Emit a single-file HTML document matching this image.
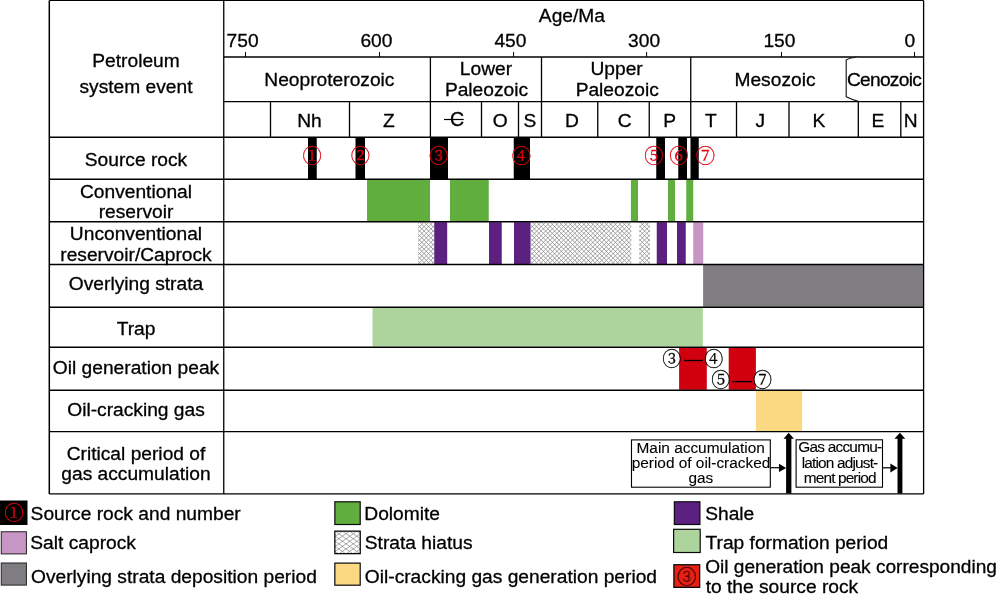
<!DOCTYPE html>
<html lang="en"><head><meta charset="utf-8"><title>Petroleum system events chart</title>
<style>
html,body{margin:0;padding:0;background:#fff;}
body{width:1000px;height:600px;overflow:hidden;font-family:"Liberation Sans", sans-serif;}
svg{display:block;}
</style></head><body>
<svg width="1000" height="600" viewBox="0 0 1000 600">
<rect width="1000" height="600" fill="#fff"/>
<rect x="308" y="137.5" width="8.75" height="41.7" fill="#000" />
<rect x="355.5" y="137.5" width="9.5" height="41.7" fill="#000" />
<rect x="430" y="137.5" width="18" height="41.7" fill="#000" />
<rect x="513.75" y="137.5" width="16.25" height="41.7" fill="#000" />
<rect x="656.25" y="137.5" width="8.75" height="41.7" fill="#000" />
<rect x="678.25" y="137.5" width="8.75" height="41.7" fill="#000" />
<rect x="690.5" y="137.5" width="8.25" height="41.7" fill="#000" />
<rect x="367" y="179.8" width="63" height="41.6" fill="#5FAE3E" />
<rect x="450" y="179.8" width="38.75" height="41.6" fill="#5FAE3E" />
<rect x="630.9" y="179.8" width="7.1" height="41.6" fill="#5FAE3E" />
<rect x="668" y="179.8" width="7" height="41.6" fill="#5FAE3E" />
<rect x="686.25" y="179.8" width="7.0" height="41.6" fill="#5FAE3E" />
<clipPath id="h0"><rect x="418" y="222.2" width="16.25" height="41.8"/></clipPath>
<path clip-path="url(#h0)" d="M379.2,222.2l41.8,41.8M383.7,222.2l41.8,41.8M388.2,222.2l41.8,41.8M392.7,222.2l41.8,41.8M397.2,222.2l41.8,41.8M401.7,222.2l41.8,41.8M406.2,222.2l41.8,41.8M410.7,222.2l41.8,41.8M415.2,222.2l41.8,41.8M419.7,222.2l41.8,41.8M419.5,222.2l-41.8,41.8M424.2,222.2l41.8,41.8M424.0,222.2l-41.8,41.8M428.7,222.2l41.8,41.8M428.5,222.2l-41.8,41.8M433.2,222.2l41.8,41.8M433.0,222.2l-41.8,41.8M437.5,222.2l-41.8,41.8M442.0,222.2l-41.8,41.8M446.5,222.2l-41.8,41.8M451.0,222.2l-41.8,41.8M455.5,222.2l-41.8,41.8M460.0,222.2l-41.8,41.8M464.5,222.2l-41.8,41.8M469.0,222.2l-41.8,41.8M473.5,222.2l-41.8,41.8" stroke="#828282" stroke-width="0.72" fill="none"/>
<clipPath id="h1"><rect x="530.5" y="222.2" width="100.75" height="41.8"/></clipPath>
<path clip-path="url(#h1)" d="M491.7,222.2l41.8,41.8M496.2,222.2l41.8,41.8M500.7,222.2l41.8,41.8M505.2,222.2l41.8,41.8M509.7,222.2l41.8,41.8M514.2,222.2l41.8,41.8M518.7,222.2l41.8,41.8M523.2,222.2l41.8,41.8M527.7,222.2l41.8,41.8M532.2,222.2l41.8,41.8M532.0,222.2l-41.8,41.8M536.7,222.2l41.8,41.8M536.5,222.2l-41.8,41.8M541.2,222.2l41.8,41.8M541.0,222.2l-41.8,41.8M545.7,222.2l41.8,41.8M545.5,222.2l-41.8,41.8M550.2,222.2l41.8,41.8M550.0,222.2l-41.8,41.8M554.7,222.2l41.8,41.8M554.5,222.2l-41.8,41.8M559.2,222.2l41.8,41.8M559.0,222.2l-41.8,41.8M563.7,222.2l41.8,41.8M563.5,222.2l-41.8,41.8M568.2,222.2l41.8,41.8M568.0,222.2l-41.8,41.8M572.7,222.2l41.8,41.8M572.5,222.2l-41.8,41.8M577.2,222.2l41.8,41.8M577.0,222.2l-41.8,41.8M581.7,222.2l41.8,41.8M581.5,222.2l-41.8,41.8M586.2,222.2l41.8,41.8M586.0,222.2l-41.8,41.8M590.7,222.2l41.8,41.8M590.5,222.2l-41.8,41.8M595.2,222.2l41.8,41.8M595.0,222.2l-41.8,41.8M599.7,222.2l41.8,41.8M599.5,222.2l-41.8,41.8M604.2,222.2l41.8,41.8M604.0,222.2l-41.8,41.8M608.7,222.2l41.8,41.8M608.5,222.2l-41.8,41.8M613.2,222.2l41.8,41.8M613.0,222.2l-41.8,41.8M617.7,222.2l41.8,41.8M617.5,222.2l-41.8,41.8M622.2,222.2l41.8,41.8M622.0,222.2l-41.8,41.8M626.7,222.2l41.8,41.8M626.5,222.2l-41.8,41.8M631.2,222.2l41.8,41.8M631.0,222.2l-41.8,41.8M635.5,222.2l-41.8,41.8M640.0,222.2l-41.8,41.8M644.5,222.2l-41.8,41.8M649.0,222.2l-41.8,41.8M653.5,222.2l-41.8,41.8M658.0,222.2l-41.8,41.8M662.5,222.2l-41.8,41.8M667.0,222.2l-41.8,41.8M671.5,222.2l-41.8,41.8" stroke="#828282" stroke-width="0.72" fill="none"/>
<clipPath id="h2"><rect x="639.25" y="222.2" width="10.75" height="41.8"/></clipPath>
<path clip-path="url(#h2)" d="M599.7,222.2l41.8,41.8M604.2,222.2l41.8,41.8M608.7,222.2l41.8,41.8M613.2,222.2l41.8,41.8M617.7,222.2l41.8,41.8M622.2,222.2l41.8,41.8M626.7,222.2l41.8,41.8M631.2,222.2l41.8,41.8M635.7,222.2l41.8,41.8M640.2,222.2l41.8,41.8M640.0,222.2l-41.8,41.8M644.7,222.2l41.8,41.8M644.5,222.2l-41.8,41.8M649.2,222.2l41.8,41.8M649.0,222.2l-41.8,41.8M653.5,222.2l-41.8,41.8M658.0,222.2l-41.8,41.8M662.5,222.2l-41.8,41.8M667.0,222.2l-41.8,41.8M671.5,222.2l-41.8,41.8M676.0,222.2l-41.8,41.8M680.5,222.2l-41.8,41.8M685.0,222.2l-41.8,41.8M689.5,222.2l-41.8,41.8" stroke="#828282" stroke-width="0.72" fill="none"/>
<rect x="434.25" y="222.2" width="12.95" height="41.8" fill="#5C2080" />
<rect x="489" y="222.2" width="12.75" height="41.8" fill="#5C2080" />
<rect x="514" y="222.2" width="16.5" height="41.8" fill="#5C2080" />
<rect x="656.75" y="222.2" width="10.25" height="41.8" fill="#5C2080" />
<rect x="677" y="222.2" width="8.75" height="41.8" fill="#5C2080" />
<rect x="693.25" y="222.2" width="10.0" height="41.8" fill="#C896C4" />
<rect x="703.1" y="265" width="220.5" height="41.8" fill="#7F7D82" />
<rect x="372.5" y="307.9" width="330.3" height="38.6" fill="#ACD49C" />
<rect x="679.1" y="347.8" width="27.7" height="42.0" fill="#D0000F" />
<rect x="728.7" y="347.8" width="27.2" height="42.0" fill="#D0000F" />
<rect x="755.9" y="390.8" width="46.2" height="40.2" fill="#FBD982" />
<line x1="49.3" y1="0.4" x2="923.6" y2="0.4" stroke="#000" stroke-width="1.3"/>
<line x1="49.3" y1="493.9" x2="923.6" y2="493.9" stroke="#000" stroke-width="1.3"/>
<line x1="49.3" y1="0.4" x2="49.3" y2="493.9" stroke="#000" stroke-width="1.5"/>
<line x1="223.75" y1="0.4" x2="223.75" y2="493.9" stroke="#000" stroke-width="1.3"/>
<line x1="923.6" y1="0.4" x2="923.6" y2="493.9" stroke="#000" stroke-width="1.3"/>
<line x1="49.3" y1="137.25" x2="923.6" y2="137.25" stroke="#000" stroke-width="1.3"/>
<line x1="49.3" y1="179.25" x2="923.6" y2="179.25" stroke="#000" stroke-width="1.3"/>
<line x1="49.3" y1="221.75" x2="923.6" y2="221.75" stroke="#000" stroke-width="1.3"/>
<line x1="49.3" y1="264.5" x2="923.6" y2="264.5" stroke="#000" stroke-width="1.3"/>
<line x1="49.3" y1="307.25" x2="923.6" y2="307.25" stroke="#000" stroke-width="1.3"/>
<line x1="49.3" y1="347.25" x2="923.6" y2="347.25" stroke="#000" stroke-width="1.3"/>
<line x1="49.3" y1="390.25" x2="923.6" y2="390.25" stroke="#000" stroke-width="1.3"/>
<line x1="49.3" y1="431.6" x2="923.6" y2="431.6" stroke="#000" stroke-width="1.3"/>
<line x1="223.75" y1="57" x2="923.6" y2="57" stroke="#000" stroke-width="1.3"/>
<line x1="223.75" y1="101.6" x2="923.6" y2="101.6" stroke="#000" stroke-width="1.3"/>
<line x1="430.4" y1="57" x2="430.4" y2="137.25" stroke="#000" stroke-width="1.3"/>
<line x1="541.5" y1="57" x2="541.5" y2="137.25" stroke="#000" stroke-width="1.3"/>
<line x1="690.75" y1="57" x2="690.75" y2="137.25" stroke="#000" stroke-width="1.3"/>
<line x1="270.5" y1="101.6" x2="270.5" y2="137.25" stroke="#000" stroke-width="1.3"/>
<line x1="349.5" y1="101.6" x2="349.5" y2="137.25" stroke="#000" stroke-width="1.3"/>
<line x1="481.5" y1="101.6" x2="481.5" y2="137.25" stroke="#000" stroke-width="1.3"/>
<line x1="518.5" y1="101.6" x2="518.5" y2="137.25" stroke="#000" stroke-width="1.3"/>
<line x1="597.75" y1="101.6" x2="597.75" y2="137.25" stroke="#000" stroke-width="1.3"/>
<line x1="649.25" y1="101.6" x2="649.25" y2="137.25" stroke="#000" stroke-width="1.3"/>
<line x1="736.5" y1="101.6" x2="736.5" y2="137.25" stroke="#000" stroke-width="1.3"/>
<line x1="789" y1="101.6" x2="789" y2="137.25" stroke="#000" stroke-width="1.3"/>
<line x1="858.3" y1="101.6" x2="858.3" y2="137.25" stroke="#000" stroke-width="1.3"/>
<line x1="900.8" y1="101.6" x2="900.8" y2="137.25" stroke="#000" stroke-width="1.3"/>
<line x1="245.5" y1="52" x2="245.5" y2="57" stroke="#000" stroke-width="1"/>
<line x1="379.5" y1="52" x2="379.5" y2="57" stroke="#000" stroke-width="1"/>
<line x1="513.6" y1="52" x2="513.6" y2="57" stroke="#000" stroke-width="1"/>
<line x1="646.6" y1="52" x2="646.6" y2="57" stroke="#000" stroke-width="1"/>
<line x1="781.5" y1="52" x2="781.5" y2="57" stroke="#000" stroke-width="1"/>
<line x1="914.5" y1="52" x2="914.5" y2="57" stroke="#000" stroke-width="1"/>
<path d="M858,57 Q850,57.6 846.2,60 L846.2,96.8 Q851,99.2 858.3,101.4" fill="#fff" stroke="#111" stroke-width="1.1"/>
<g font-family='"Liberation Sans", sans-serif' fill="#000" stroke="#000" stroke-width="0.3">
<text x="136" y="67" font-size="19.2" text-anchor="middle" >Petroleum</text>
<text x="136" y="93" font-size="19.2" text-anchor="middle" >system event</text>
<text x="136.0" y="166.25" font-size="19.2" text-anchor="middle" >Source rock</text>
<text x="136.0" y="197.5" font-size="19.2" text-anchor="middle" >Conventional</text>
<text x="136.0" y="217.5" font-size="19.2" text-anchor="middle" >reservoir</text>
<text x="136.0" y="240" font-size="19.2" text-anchor="middle" >Unconventional</text>
<text x="136.0" y="260.75" font-size="19.2" text-anchor="middle" >reservoir/Caprock</text>
<text x="136.0" y="290" font-size="19.2" text-anchor="middle" >Overlying strata</text>
<text x="136.0" y="334.5" font-size="19.2" text-anchor="middle" >Trap</text>
<text x="136.0" y="373.75" font-size="19.2" text-anchor="middle" >Oil generation peak</text>
<text x="136.0" y="416.25" font-size="19.2" text-anchor="middle" >Oil-cracking gas</text>
<text x="136.0" y="459.5" font-size="19.2" text-anchor="middle" >Critical period of</text>
<text x="136.0" y="480" font-size="19.2" text-anchor="middle" >gas accumulation</text>
<text x="571.9" y="21.9" font-size="19.2" text-anchor="middle" >Age/Ma</text>
<text x="242.6" y="47" font-size="19.2" text-anchor="middle" >750</text>
<text x="376.4" y="47" font-size="19.2" text-anchor="middle" >600</text>
<text x="510.4" y="47" font-size="19.2" text-anchor="middle" >450</text>
<text x="644.1" y="47" font-size="19.2" text-anchor="middle" >300</text>
<text x="779.4" y="47" font-size="19.2" text-anchor="middle" >150</text>
<text x="909.75" y="47" font-size="19.2" text-anchor="middle" >0</text>
<text x="329.4" y="85.75" font-size="19.2" text-anchor="middle" >Neoproterozoic</text>
<text x="486" y="75" font-size="19.2" text-anchor="middle" >Lower</text>
<text x="486.5" y="95.75" font-size="19.2" text-anchor="middle" >Paleozoic</text>
<text x="616.6" y="75" font-size="19.2" text-anchor="middle" >Upper</text>
<text x="617.25" y="95.75" font-size="19.2" text-anchor="middle" >Paleozoic</text>
<text x="775" y="85.75" font-size="19.2" text-anchor="middle" >Mesozoic</text>
<text x="884.0" y="85.5" font-size="19.2" text-anchor="middle" letter-spacing="-0.75">Cenozoic</text>
<text x="309.4" y="126.6" font-size="19.2" text-anchor="middle" >Nh</text>
<text x="388.75" y="126.6" font-size="19.2" text-anchor="middle" >Z</text>
<text x="500.25" y="126.6" font-size="19.2" text-anchor="middle" >O</text>
<text x="530" y="126.6" font-size="19.2" text-anchor="middle" >S</text>
<text x="571.9" y="126.6" font-size="19.2" text-anchor="middle" >D</text>
<text x="624.75" y="126.6" font-size="19.2" text-anchor="middle" >C</text>
<text x="669.75" y="126.6" font-size="19.2" text-anchor="middle" >P</text>
<text x="710.75" y="126.6" font-size="19.2" text-anchor="middle" >T</text>
<text x="760.4" y="126.6" font-size="19.2" text-anchor="middle" >J</text>
<text x="818.9" y="126.6" font-size="19.2" text-anchor="middle" >K</text>
<text x="878" y="126.6" font-size="19.2" text-anchor="middle" >E</text>
<text x="910.75" y="126.6" font-size="19.2" text-anchor="middle" >N</text>
<text x="457.0" y="125.9" font-size="20.6" text-anchor="middle" transform="translate(457 0) scale(0.95 1) translate(-457 0)">C</text>
</g>
<line x1="444" y1="119.5" x2="463.7" y2="119.5" stroke="#000" stroke-width="1.2"/>
<text x="312.25" y="163.41" font-size="19.3" text-anchor="middle" font-family='"Liberation Serif", "Noto Serif CJK SC", serif' fill="#E0000F" stroke="#E0000F" stroke-width="0.3">①</text>
<text x="360.4" y="163.41" font-size="19.3" text-anchor="middle" font-family='"Liberation Serif", "Noto Serif CJK SC", serif' fill="#E0000F" stroke="#E0000F" stroke-width="0.3">②</text>
<text x="438.75" y="163.41" font-size="19.3" text-anchor="middle" font-family='"Liberation Serif", "Noto Serif CJK SC", serif' fill="#E0000F" stroke="#E0000F" stroke-width="0.3">③</text>
<text x="521.4" y="163.41" font-size="19.3" text-anchor="middle" font-family='"Liberation Serif", "Noto Serif CJK SC", serif' fill="#E0000F" stroke="#E0000F" stroke-width="0.3">④</text>
<text x="654" y="163.41" font-size="19.3" text-anchor="middle" font-family='"Liberation Serif", "Noto Serif CJK SC", serif' fill="#E0000F" stroke="#E0000F" stroke-width="0.3">⑤</text>
<text x="679" y="163.41" font-size="19.3" text-anchor="middle" font-family='"Liberation Serif", "Noto Serif CJK SC", serif' fill="#E0000F" stroke="#E0000F" stroke-width="0.3">⑥</text>
<text x="705.4" y="163.41" font-size="19.3" text-anchor="middle" font-family='"Liberation Serif", "Noto Serif CJK SC", serif' fill="#E0000F" stroke="#E0000F" stroke-width="0.3">⑦</text>
<circle cx="671.8" cy="358.7" r="8.36" fill="#fff"/>
<text x="671.8" y="365.9" font-size="19.0" text-anchor="middle" font-family='"Liberation Serif", "Noto Serif CJK SC", serif' fill="#000" stroke="#000" stroke-width="0.28">③</text>
<circle cx="713.8" cy="358.7" r="8.36" fill="#fff"/>
<text x="713.8" y="365.9" font-size="19.0" text-anchor="middle" font-family='"Liberation Serif", "Noto Serif CJK SC", serif' fill="#000" stroke="#000" stroke-width="0.28">④</text>
<circle cx="720.8" cy="379.4" r="8.36" fill="#fff"/>
<text x="720.8" y="386.6" font-size="19.0" text-anchor="middle" font-family='"Liberation Serif", "Noto Serif CJK SC", serif' fill="#000" stroke="#000" stroke-width="0.28">⑤</text>
<circle cx="762.6" cy="379.4" r="8.36" fill="#fff"/>
<text x="762.6" y="386.6" font-size="19.0" text-anchor="middle" font-family='"Liberation Serif", "Noto Serif CJK SC", serif' fill="#000" stroke="#000" stroke-width="0.28">⑦</text>
<line x1="683.9" y1="360.5" x2="702.8" y2="360.5" stroke="#000" stroke-width="1.3"/>
<line x1="732.4" y1="381.6" x2="751.9" y2="381.6" stroke="#000" stroke-width="1.3"/>
<rect x="631.5" y="439.9" width="138.8" height="47.3" fill="#fff" stroke="#000" stroke-width="1.1"/>
<rect x="796.1" y="439.8" width="86.4" height="47.4" fill="#fff" stroke="#000" stroke-width="1.1"/>
<g font-family='"Liberation Sans", sans-serif' fill="#000" stroke="#000" stroke-width="0.1">
<text x="700.7" y="452.6" font-size="15.4" text-anchor="middle" >Main accumulation</text>
<text x="701" y="467.6" font-size="15.4" text-anchor="middle" >period of oil-cracked</text>
<text x="700.8" y="482.6" font-size="15.4" text-anchor="middle" >gas</text>
<text x="839.8" y="452.4" font-size="15.4" text-anchor="middle" letter-spacing="-0.76">Gas accumu-</text>
<text x="839.6" y="467.6" font-size="15.4" text-anchor="middle" letter-spacing="-0.83">lation adjust-</text>
<text x="839.7" y="482.6" font-size="15.4" text-anchor="middle" letter-spacing="-0.86">ment period</text>
</g>
<line x1="770.4" y1="467.7" x2="780" y2="467.7" stroke="#000" stroke-width="1.2"/>
<polygon points="779,463.8 786.2,467.9 779,472" fill="#000"/>
<line x1="882.7" y1="467.8" x2="891" y2="467.8" stroke="#000" stroke-width="1.2"/>
<polygon points="890.4,463.5 897.7,467.9 890.4,472.4" fill="#000"/>
<polygon points="786.1,493.6 786.1,438.7 783.5,438.7 788.7,432.8 794,438.7 791.4,438.7 791.4,493.6" fill="#000"/>
<polygon points="897.5,493.6 897.5,438.7 894.4,438.7 899.9,432.8 905.3,438.7 902.4,438.7 902.4,493.6" fill="#000"/>
<rect x="0" y="500.5" width="27.5" height="24.5" fill="#000" />
<text x="14" y="520.03" font-size="19.6" text-anchor="middle" font-family='"Liberation Serif", "Noto Serif CJK SC", serif' fill="#E0000F" stroke="#E0000F" stroke-width="0.3">①</text>
<rect x="1.25" y="531.75" width="25.15" height="22.15" fill="#C896C4" stroke="#222" stroke-width="1.0"/>
<rect x="1.25" y="563.0" width="25.15" height="22.1" fill="#7F7D82" stroke="#222" stroke-width="1.0"/>
<rect x="334.85" y="501.8" width="25.35" height="22.7" fill="#5FAE3E" stroke="#0a0a0a" stroke-width="1.2"/>
<clipPath id="hl"><rect x="334.7" y="531.2" width="25.7" height="22.7"/></clipPath>
<path clip-path="url(#hl)" d="M306.45,531.2l32.24,22.7M313.65,531.2l32.24,22.7M320.85,531.2l32.24,22.7M328.05,531.2l32.24,22.7M335.15,531.2l-32.24,22.7M335.25,531.2l32.24,22.7M342.35,531.2l-32.24,22.7M342.45,531.2l32.24,22.7M349.55,531.2l-32.24,22.7M349.65,531.2l32.24,22.7M356.75,531.2l-32.24,22.7M356.85,531.2l32.24,22.7M363.95,531.2l-32.24,22.7M371.15,531.2l-32.24,22.7M378.35,531.2l-32.24,22.7M385.55,531.2l-32.24,22.7" stroke="#777" stroke-width="0.62" fill="none"/>
<rect x="334.85" y="531.15" width="25.4" height="22.5" fill="none" stroke="#0a0a0a" stroke-width="1.3"/>
<rect x="334.85" y="563.1" width="25.35" height="22.1" fill="#FBD982" stroke="#0a0a0a" stroke-width="1.2"/>
<rect x="674.35" y="501.8" width="25.55" height="22.7" fill="#5C2080" stroke="#0a0a0a" stroke-width="1.2"/>
<rect x="673.6" y="529.3" width="26.6" height="23.2" fill="#ACD49C" stroke="#0a0a0a" stroke-width="1.2"/>
<rect x="673.9" y="564.75" width="25.75" height="22.6" fill="#E62114" stroke="#0a0a0a" stroke-width="1.3"/>
<text x="686.8" y="584.0" font-size="19.6" text-anchor="middle" font-family='"Liberation Serif", "Noto Serif CJK SC", serif' fill="#E62114" stroke="#3a0000" stroke-width="0.55">③</text>
<g font-family='"Liberation Sans", sans-serif' fill="#000" stroke="#000" stroke-width="0.3">
<text x="30.6" y="519.5" font-size="19.2" text-anchor="start" >Source rock and number</text>
<text x="30.3" y="548.8" font-size="19.2" text-anchor="start" >Salt caprock</text>
<text x="31" y="583" font-size="19.2" text-anchor="start" >Overlying strata deposition period</text>
<text x="364.3" y="519.5" font-size="19.2" text-anchor="start" >Dolomite</text>
<text x="364.8" y="548.8" font-size="19.2" text-anchor="start" >Strata hiatus</text>
<text x="364.8" y="583" font-size="19.2" text-anchor="start" >Oil-cracking gas generation period</text>
<text x="705.2" y="519.5" font-size="19.2" text-anchor="start" >Shale</text>
<text x="705.5" y="548.8" font-size="19.2" text-anchor="start" >Trap formation period</text>
<text x="705.2" y="572.5" font-size="19.08" text-anchor="start" >Oil generation peak corresponding</text>
<text x="705.7" y="592.5" font-size="19.2" text-anchor="start" >to the source rock</text>
</g>
</svg>
</body></html>
